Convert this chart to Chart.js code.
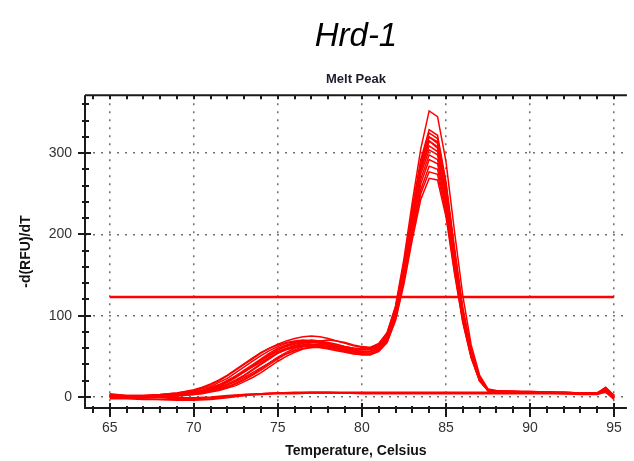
<!DOCTYPE html>
<html>
<head>
<meta charset="utf-8">
<script src="https://cdn.jsdelivr.net/npm/chart.js@4.4.1/dist/chart.umd.min.js"></script>
<style>
  html, body { margin: 0; padding: 0; background: #fff; }
  #wrap { width: 634px; height: 461px; }
</style>
</head>
<body>
<div id="wrap"><canvas id="meltChart" width="634" height="461"></canvas></div>
<script>
// Temperatures (Celsius) for the sample melt curves
const temps = [65, 66, 67, 68, 69, 70, 70.5, 71, 71.5, 72, 72.5, 73, 73.5, 74, 74.5, 75,
  75.5, 76, 76.5, 77, 77.5, 78, 78.5, 79, 79.5, 80, 80.5, 81, 81.5, 82, 82.5, 83, 83.5,
  84, 84.5, 85, 85.5, 86, 86.5, 87, 87.5, 88, 89, 90, 91, 92, 93, 94, 94.5, 95];

// -d(RFU)/dT for each sample well
const meltCurves = [
  [3, 1, 1, 2, 3, 6, 8, 11, 15, 20, 26, 33, 40, 47, 54, 60, 64, 67, 69, 70, 69, 67, 65, 62, 60, 59, 60, 65, 79, 112, 170, 240, 305, 352, 345, 290, 205, 125, 64, 27, 10, 8, 7, 7, 6, 6, 5, 5, 10, 1],
  [1, 0, 1, 1, 3, 5, 7, 10, 13, 18, 24, 31, 38, 45, 52, 58, 63, 66, 68, 69, 68, 66, 64, 62, 60, 58, 59, 64, 77, 110, 165, 232, 292, 329, 322, 265, 185, 110, 58, 25, 9, 7, 7, 6, 6, 6, 5, 5, 8, 0],
  [2, 1, 0, 1, 2, 4, 6, 8, 11, 15, 20, 26, 33, 40, 47, 54, 59, 63, 66, 67, 67, 66, 64, 62, 60, 59, 59, 63, 75, 106, 160, 228, 288, 325, 318, 262, 182, 108, 57, 24, 9, 7, 7, 6, 6, 6, 5, 5, 9, 2],
  [4, 2, 2, 3, 5, 8, 11, 15, 20, 26, 33, 40, 47, 54, 60, 65, 69, 72, 74, 75, 74, 72, 69, 66, 63, 61, 61, 66, 79, 110, 163, 230, 287, 320, 312, 255, 178, 106, 56, 23, 9, 7, 6, 6, 6, 5, 5, 4, 11, 0],
  [0, -1, 0, 1, 2, 4, 6, 8, 11, 15, 19, 24, 30, 36, 42, 48, 53, 57, 60, 61, 61, 60, 58, 56, 54, 52, 52, 57, 70, 102, 155, 220, 278, 315, 306, 250, 172, 103, 55, 23, 8, 6, 6, 6, 5, 5, 5, 4, 7, -2],
  [2, 1, 1, 2, 3, 5, 8, 11, 15, 20, 26, 32, 39, 46, 52, 58, 62, 65, 67, 67, 66, 64, 62, 59, 57, 56, 56, 61, 74, 105, 158, 222, 279, 309, 302, 248, 170, 102, 54, 22, 8, 7, 6, 6, 6, 5, 5, 5, 9, 1],
  [1, 0, 0, 1, 2, 3, 5, 7, 9, 12, 16, 21, 27, 33, 40, 47, 53, 58, 62, 64, 65, 64, 63, 61, 59, 58, 58, 62, 74, 104, 155, 218, 274, 304, 298, 244, 168, 100, 53, 22, 8, 6, 6, 6, 5, 5, 5, 4, 8, 0],
  [3, 1, 1, 2, 4, 7, 10, 13, 18, 23, 30, 37, 44, 51, 57, 62, 66, 68, 69, 69, 68, 66, 63, 60, 58, 56, 56, 60, 72, 101, 151, 213, 268, 298, 292, 240, 165, 99, 52, 21, 8, 7, 6, 6, 6, 5, 5, 5, 10, 2],
  [1, 0, 0, 1, 2, 4, 6, 9, 12, 16, 21, 27, 34, 41, 48, 54, 59, 62, 64, 65, 64, 62, 60, 58, 56, 54, 54, 58, 70, 98, 147, 207, 262, 292, 287, 236, 162, 97, 51, 21, 8, 7, 6, 6, 5, 5, 5, 4, 8, -1],
  [2, 1, 1, 2, 3, 5, 7, 10, 14, 19, 25, 31, 38, 45, 51, 56, 60, 63, 64, 64, 63, 61, 59, 57, 55, 53, 53, 57, 68, 96, 143, 201, 255, 284, 280, 231, 158, 95, 50, 20, 8, 6, 6, 6, 5, 5, 5, 4, 9, 1],
  [0, -1, 0, 0, 1, 3, 4, 6, 8, 11, 14, 19, 24, 30, 37, 44, 50, 55, 59, 61, 62, 62, 61, 59, 57, 56, 56, 59, 70, 97, 143, 199, 250, 277, 274, 227, 156, 93, 49, 20, 8, 6, 6, 6, 5, 5, 4, 4, 7, -1],
  [2, 1, 1, 2, 3, 6, 8, 11, 15, 20, 25, 31, 37, 43, 49, 54, 58, 61, 62, 62, 61, 59, 57, 55, 53, 52, 52, 56, 67, 94, 139, 194, 243, 269, 267, 222, 153, 92, 48, 20, 8, 7, 6, 6, 5, 5, 5, 4, 8, 2],
  [3, 2, 2, 3, 5, 9, 12, 16, 21, 27, 34, 41, 48, 55, 60, 64, 67, 69, 70, 69, 67, 64, 61, 58, 56, 55, 56, 61, 74, 106, 158, 224, 283, 315, 308, 252, 175, 104, 55, 23, 8, 7, 6, 6, 6, 5, 5, 5, 9, 1],
  [1, 0, 0, 1, 2, 4, 5, 7, 10, 13, 17, 22, 28, 35, 42, 49, 55, 60, 64, 67, 69, 70, 69, 67, 64, 62, 61, 65, 77, 108, 161, 228, 286, 320, 314, 258, 180, 107, 56, 23, 9, 7, 6, 6, 6, 5, 5, 5, 10, 0]
];

// No-template controls (flat curves)
const ctrlTemps = [65, 66, 67, 68, 69, 70, 71, 72, 73, 74, 75, 76, 77, 78, 79, 80, 81, 82,
  83, 84, 85, 86, 87, 88, 89, 90, 91, 92, 93, 94, 94.5, 95];
const ctrlCurves = [
  [-2, -2, -3, -3, -4, -4, -3, -1, 2, 4, 5, 6, 6, 6, 5, 5, 5, 5, 5, 5, 5, 5, 5, 5, 5, 5, 5, 4, 4, 4, 8, -1],
  [1, 0, -1, -1, -2, -2, -1, 1, 3, 4, 5, 5, 6, 6, 6, 6, 6, 6, 6, 6, 6, 6, 6, 6, 5, 5, 5, 5, 5, 5, 6, 0],
  [0, -1, -2, -3, -3, -3, -2, 0, 2, 3, 4, 4, 5, 5, 5, 4, 4, 4, 4, 4, 4, 4, 4, 4, 4, 4, 4, 4, 3, 3, 6, -3],
  [2, 1, 0, 0, -1, -1, 0, 2, 3, 4, 5, 5, 5, 5, 5, 5, 5, 5, 5, 5, 5, 5, 5, 5, 5, 5, 5, 5, 5, 5, 12, 2]
];

// Threshold line
const thresholdTemps = [65, 95];
const thresholdValue = 123;

// Axis ticks
const xTicks = [65, 70, 75, 80, 85, 90, 95];
const yTicks = [0, 100, 200, 300];

const FONT = "'Liberation Sans', Arial, sans-serif";
const RED = "#ff0000";

const datasets = [];
meltCurves.forEach((vals) => {
  datasets.push({
    data: temps.map((t, i) => ({ x: t, y: vals[i] })),
    borderColor: RED,
    borderWidth: 1.5,
    pointRadius: 0,
    tension: 0,
  });
});
ctrlCurves.forEach((vals) => {
  datasets.push({
    data: ctrlTemps.map((t, i) => ({ x: t, y: vals[i] })),
    borderColor: RED,
    borderWidth: 1.5,
    pointRadius: 0,
    tension: 0,
  });
});
datasets.push({
  data: thresholdTemps.map((t) => ({ x: t, y: thresholdValue })),
  borderColor: RED,
  borderWidth: 2.5,
  pointRadius: 0,
});

// Frame with crossing major/minor tick marks, like the instrument software
const axisFrame = {
  id: "axisFrame",
  afterDraw(chart) {
    const { ctx, chartArea: a, scales: { x, y } } = chart;
    ctx.save();
    ctx.strokeStyle = "#1a1a1a";
    ctx.lineWidth = 2;
    ctx.beginPath();
    ctx.moveTo(a.left, a.top);
    ctx.lineTo(a.right, a.top);
    ctx.moveTo(a.left, a.top);
    ctx.lineTo(a.left, a.bottom);
    ctx.lineTo(a.right, a.bottom);
    ctx.stroke();

    ctx.beginPath();
    for (let t = 64; t <= 95; t++) {
      const px = Math.round(x.getPixelForValue(t));
      const major = t % 5 === 0;
      ctx.moveTo(px, a.bottom - (major ? 5 : 2));
      ctx.lineTo(px, a.bottom + (major ? 9 : 5));
      ctx.moveTo(px, a.top);
      ctx.lineTo(px, a.top + 4);
    }
    for (let v = 0; v <= 360; v += 20) {
      const py = Math.round(y.getPixelForValue(v));
      const major = v % 100 === 0;
      ctx.moveTo(a.left - (major ? 7 : 3), py);
      ctx.lineTo(a.left + (major ? 6 : 4), py);
    }
    ctx.stroke();
    ctx.restore();
  },
};

new Chart(document.getElementById("meltChart"), {
  type: "line",
  data: { datasets },
  options: {
    responsive: false,
    animation: false,
    devicePixelRatio: 1,
    layout: { padding: { left: 0, right: 2, top: 0, bottom: 0 } },
    plugins: {
      legend: { display: false },
      tooltip: { enabled: false },
      title: {
        display: true,
        text: "Hrd-1",
        fullSize: false,
        color: "#000",
        font: { family: FONT, size: 33, style: "italic", weight: "normal" },
        padding: { top: 17, bottom: 8 },
      },
      subtitle: {
        display: true,
        text: "Melt Peak",
        fullSize: false,
        color: "#1c1c2c",
        font: { family: FONT, size: 13, weight: "bold" },
        padding: { top: 7, bottom: 8 },
      },
    },
    scales: {
      x: {
        type: "linear",
        min: 63.527,
        max: 95.766,
        afterBuildTicks: (s) => { s.ticks = xTicks.map((v) => ({ value: v })); },
        afterFit: (s) => { s.height = 53; },
        grid: { color: "#6f6f6f", lineWidth: 1.5, drawTicks: false },
        border: { display: false, dash: [2, 6] },
        ticks: { padding: 12, color: "#333", maxRotation: 0, font: { family: FONT, size: 14 } },
        title: {
          display: true,
          text: "Temperature, Celsius",
          color: "#111",
          font: { family: FONT, size: 14, weight: "bold" },
          padding: { top: 0, bottom: 1 },
        },
      },
      y: {
        min: -13.52,
        max: 371.3,
        afterBuildTicks: (s) => { s.ticks = yTicks.map((v) => ({ value: v })); },
        afterFit: (s) => { s.width = 85; },
        grid: { color: "#6f6f6f", lineWidth: 1.5, drawTicks: false },
        border: { display: false, dash: [2, 6] },
        ticks: { padding: 13, color: "#333", font: { family: FONT, size: 14 } },
        title: {
          display: true,
          text: "-d(RFU)/dT",
          color: "#111",
          font: { family: FONT, size: 14, weight: "bold" },
          padding: { top: 17.6, bottom: 0 },
        },
      },
    },
  },
  plugins: [axisFrame],
});
</script>
</body>
</html>
